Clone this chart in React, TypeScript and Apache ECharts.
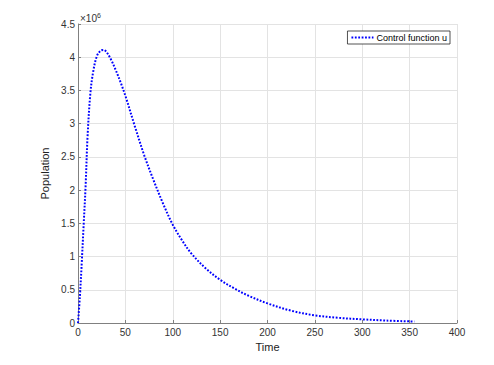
import React, { useEffect, useRef } from "react";
import * as echarts from "echarts";

// Time (x) and control function u (population, in units of 10^6)
const time = [0, 2, 4, 6, 8, 10, 13, 16, 20, 24, 27, 30, 35, 40, 45, 50, 60, 70, 80, 90, 100, 110, 120, 135, 150, 165, 180, 200, 225, 250, 275, 300, 325, 355];
const controlU = [0, 0.4, 0.92, 1.49, 2.05, 2.78, 3.45, 3.78, 4.02, 4.1, 4.11, 4.08, 3.96, 3.8, 3.62, 3.42, 2.96, 2.52, 2.14, 1.79, 1.48, 1.24, 1.04, 0.82, 0.65, 0.52, 0.41, 0.295, 0.185, 0.115, 0.078, 0.055, 0.037, 0.022];
const seriesName = "Control function u";
const xTicks = { min: 0, max: 400, interval: 50 };
const yTicks = { min: 0, max: 4.5, interval: 0.5 };

const FONT = "'Liberation Sans', Arial, Helvetica, sans-serif";

export default function App() {
  const ref = useRef<HTMLDivElement>(null);
  useEffect(() => {
    if (!ref.current) return;
    const chart = echarts.init(ref.current, undefined, { renderer: "svg" });
    const axisCommon = {
      axisLine: { show: true, lineStyle: { color: "#808080", width: 1 } },
      axisTick: { show: true, inside: true, length: 3, lineStyle: { color: "#808080" } },
      splitLine: { show: true, lineStyle: { color: "#e3e3e3", width: 1 } },
      axisLabel: { color: "#333", fontSize: 10, fontFamily: FONT },
      nameTextStyle: { color: "#222", fontSize: 11, fontFamily: FONT },
    };
    chart.setOption({
      animation: false,
      backgroundColor: "#ffffff",
      grid: { left: 78, top: 24, right: 37, bottom: 42, containLabel: false },
      xAxis: {
        type: "value",
        ...xTicks,
        name: "Time",
        nameLocation: "middle",
        nameGap: 15,
        ...axisCommon,
        axisLabel: { ...axisCommon.axisLabel, margin: 4 },
      },
      yAxis: {
        type: "value",
        ...yTicks,
        name: "Population",
        nameLocation: "middle",
        nameGap: 17,
        ...axisCommon,
        axisLabel: { ...axisCommon.axisLabel, margin: 3 },
      },
      legend: {
        show: true,
        data: [seriesName],
        right: 44,
        top: 31,
        orient: "horizontal",
        backgroundColor: "#ffffff",
        borderColor: "#262626",
        borderWidth: 0.8,
        borderRadius: 0,
        padding: [2, 3, 2, 3],
        itemWidth: 22,
        itemHeight: 8,
        itemGap: 4,
        itemStyle: { opacity: 0 },
        textStyle: { color: "#000", fontSize: 9, fontFamily: FONT, padding: [0, 0, 0, -2] },
      },
      graphic: [
        {
          type: "text",
          left: 80,
          top: 12,
          style: {
            text: "×10{s|6}",
            rich: { s: { fontSize: 7, verticalAlign: "top", padding: [0, 0, 6, 0], fill: "#333", fontFamily: FONT } },
            fontSize: 10,
            fill: "#333",
            fontFamily: FONT,
          },
        },
      ],
      series: [
        {
          name: seriesName,
          type: "line",
          data: time.map((t, i) => [t, controlU[i]]),
          smooth: 0.35,
          symbol: "none",
          lineStyle: { color: "#0000ff", width: 2, type: [1.8, 1.6] },
          itemStyle: { color: "#0000ff" },
        },
      ],
    });
    return () => chart.dispose();
  }, []);
  return <div ref={ref} style={{ position: "fixed", left: 0, top: 0, width: 494, height: 365 }} />;
}
